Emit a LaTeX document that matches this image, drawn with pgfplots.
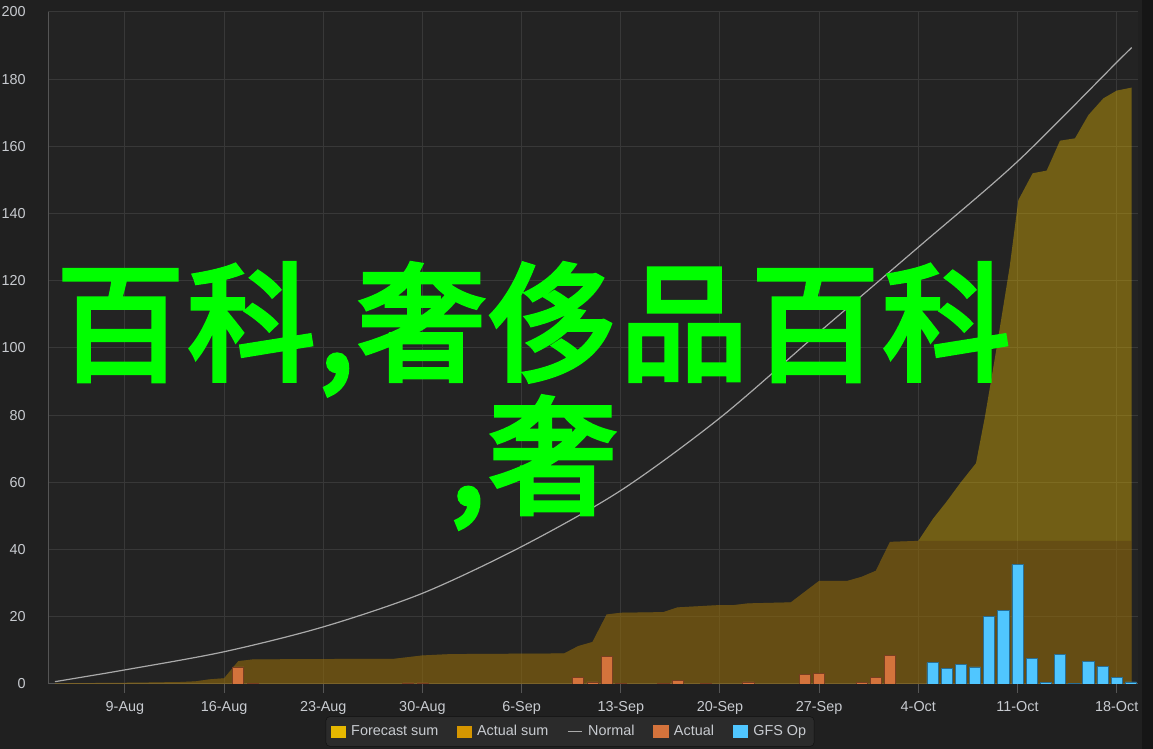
\documentclass[border=0pt]{standalone}
\usepackage{fontspec}
\setmainfont{Liberation Sans}
\newfontfamily\cjk{Noto Sans CJK SC}[FakeBold=3.5, LetterSpace=2.5]
\usepackage{pgfplots}
\pgfplotsset{compat=1.18}

\definecolor{bgc}{RGB}{32,32,32}
\definecolor{plotbg}{RGB}{35,35,35}
\definecolor{stripc}{RGB}{22,22,22}
\definecolor{gridc}{RGB}{56,56,56}
\definecolor{axisc}{RGB}{85,85,85}
\definecolor{labc}{RGB}{200,203,208}
\definecolor{legbg}{RGB}{43,43,43}
\definecolor{legdraw}{RGB}{18,18,18}
\definecolor{fcsum}{RGB}{230,184,0}
\definecolor{actsum}{RGB}{214,150,0}
\definecolor{actdark}{RGB}{75,40,20}
\definecolor{normc}{RGB}{170,170,170}
\definecolor{actc}{RGB}{212,115,60}
\definecolor{actedge}{RGB}{120,62,32}
\definecolor{gfsc}{RGB}{80,198,255}
\definecolor{gfsedge}{RGB}{40,110,150}
\definecolor{bigtxt}{RGB}{0,255,0}

\begin{document}
\begin{tikzpicture}
\fill[bgc] (0,0) rectangle (864.75pt,561.75pt);
\useasboundingbox (0,0) rectangle (864.75pt,561.75pt);
\fill[stripc] (856.5pt,0) rectangle (864.75pt,561.75pt);
\begin{axis}[
    at={(36.225pt,48.75pt)}, anchor=south west,
    scale only axis, width=817.2pt, height=504pt,
    xmin=2.59, xmax=79.5, ymin=0, ymax=200,
    axis background/.style={fill=plotbg},
    axis lines=left, axis line style={draw=axisc, line width=0.75pt, -},
    grid=major, grid style={draw=gridc, line width=0.75pt},
    xtick={8,15,22,29,36,43,50,57,64,71,78},
    xticklabels={9-Aug,16-Aug,23-Aug,30-Aug,6-Sep,13-Sep,20-Sep,27-Sep,4-Oct,11-Oct,18-Oct},
    ytick={0,20,...,200},
    tick align=outside, major tick length=6.5pt,
    xtick style={draw=axisc, line width=0.75pt},
    ytick style={draw=none},
    tick label style={font=\fontsize{10.8pt}{13pt}\selectfont, text=labc},
    /pgf/number format/assume math mode=true,
    xticklabel shift=3pt, yticklabel shift=7pt,
    legend columns=-1, legend cell align=left,
    legend style={at={(0.4788,-0.0707)}, anchor=center,
        fill=legbg, draw=legdraw, rounded corners=3pt, text=labc,
        font=\fontsize{10.8pt}{13pt}\selectfont,
        inner xsep=4pt, inner ysep=4.5pt,
        /tikz/every odd column/.append style={column sep=2pt},
        /tikz/every even column/.append style={column sep=12pt}},
]
% Forecast sum
\addplot[fill=fcsum, fill opacity=0.4, draw=none,
    legend image code/.code={\fill[fcsum, fill opacity=1, sharp corners] (0pt,-4.5pt) rectangle (11pt,4.5pt);}]
coordinates {
(3.06,0.2) (6,0.3) (9,0.4) (12,0.6) (13,0.8) (14,1.4) (15,1.7) (16,6.8) (17,7.3)
(20,7.4) (27,7.5) (29,8.5) (31,8.9) (39,9.1) (40,11.3) (41,12.5) (42,20.7) (43,21.2)
(46,21.4) (47,22.8) (50,23.5) (51,23.5) (52,24.0) (55,24.3) (57,30.7) (59,30.7)
(60,31.9) (61,33.7) (62,42.3) (64,42.6) (65.06,49.3) (66,54.3) (66.94,59.7)
(68.07,65.7) (68.7,79.5) (69.5,99.4) (70.45,124.2) (71.06,144) (72.07,152)
(73.06,152.8) (74,161.7) (75.06,162.4) (76,169.3) (77.06,174.3) (78,176.6) (79.06,177.5)
} \closedcycle;
\addlegendentry{Forecast sum}
% Actual sum
\addplot[fill=actdark, fill opacity=0.3, draw=none,
    legend image code/.code={\fill[actsum, fill opacity=1, sharp corners] (0pt,-4.5pt) rectangle (11pt,4.5pt);}]
coordinates {
(3.06,0.2) (6,0.3) (9,0.4) (12,0.6) (13,0.8) (14,1.4) (15,1.7) (16,6.8) (17,7.3)
(20,7.4) (27,7.5) (29,8.5) (31,8.9) (39,9.1) (40,11.3) (41,12.5) (42,20.7) (43,21.2)
(46,21.4) (47,22.8) (50,23.5) (51,23.5) (52,24.0) (55,24.3) (57,30.7) (59,30.7)
(60,31.9) (61,33.7) (62,42.3) (64,42.6) (79.06,42.6)
} \closedcycle;
\addlegendentry{Actual sum}
% Normal
\addplot[normc, line width=0.9pt, smooth,
    legend image code/.code={\draw[normc, line width=0.9pt] (0pt,0pt) -- (11pt,0pt);}]
coordinates {
(3.06,0.7) (8,4.2) (15,9.6) (22,17.0) (29,27.0) (36,40.9) (43,57.6) (50,79.2)
(57,104.7) (64,130) (71,155.5) (78,185) (79.06,189.4)
};
\addlegendentry{Normal}
% Actual
\addplot[ybar, bar width=0.78, bar shift=0pt, fill=actc, draw=actedge, line width=0.5pt,
    legend image code/.code={\fill[actc, sharp corners] (0pt,-4.5pt) rectangle (11pt,4.5pt);}]
coordinates {
(16,5.1) (17,0.25) (28,0.3) (29,0.3) (40,1.9) (41,0.6) (42,8.1) (43,0.25) (46,0.25)
(47,1.0) (49,0.25) (52,0.6) (56,2.8) (57,3.2) (60,0.5) (61,1.9) (62,8.6)
};
\addlegendentry{Actual}
% GFS Op
\addplot[ybar, bar width=0.78, bar shift=0pt, fill=gfsc, draw=gfsedge, line width=0.5pt,
    legend image code/.code={\fill[gfsc, sharp corners] (0pt,-4.5pt) rectangle (11pt,4.5pt);}]
coordinates {
(65,6.35) (66,4.6) (67,5.85) (68,5.06) (69,20.0) (70,21.8) (71,35.6) (72,7.6)
(73,0.5) (74,8.9) (75,0.2) (76,6.75) (77,5.2) (78,1.9) (79,0.6)
};
\addlegendentry{GFS Op}
\end{axis}
\node[text=bigtxt, font=\cjk\fontsize{96pt}{91pt}\selectfont, align=center]
    at (400pt,265pt) {\lineskiplimit=-1000pt\relax 百科,奢侈品百科\\,奢};
\end{tikzpicture}
\end{document}
